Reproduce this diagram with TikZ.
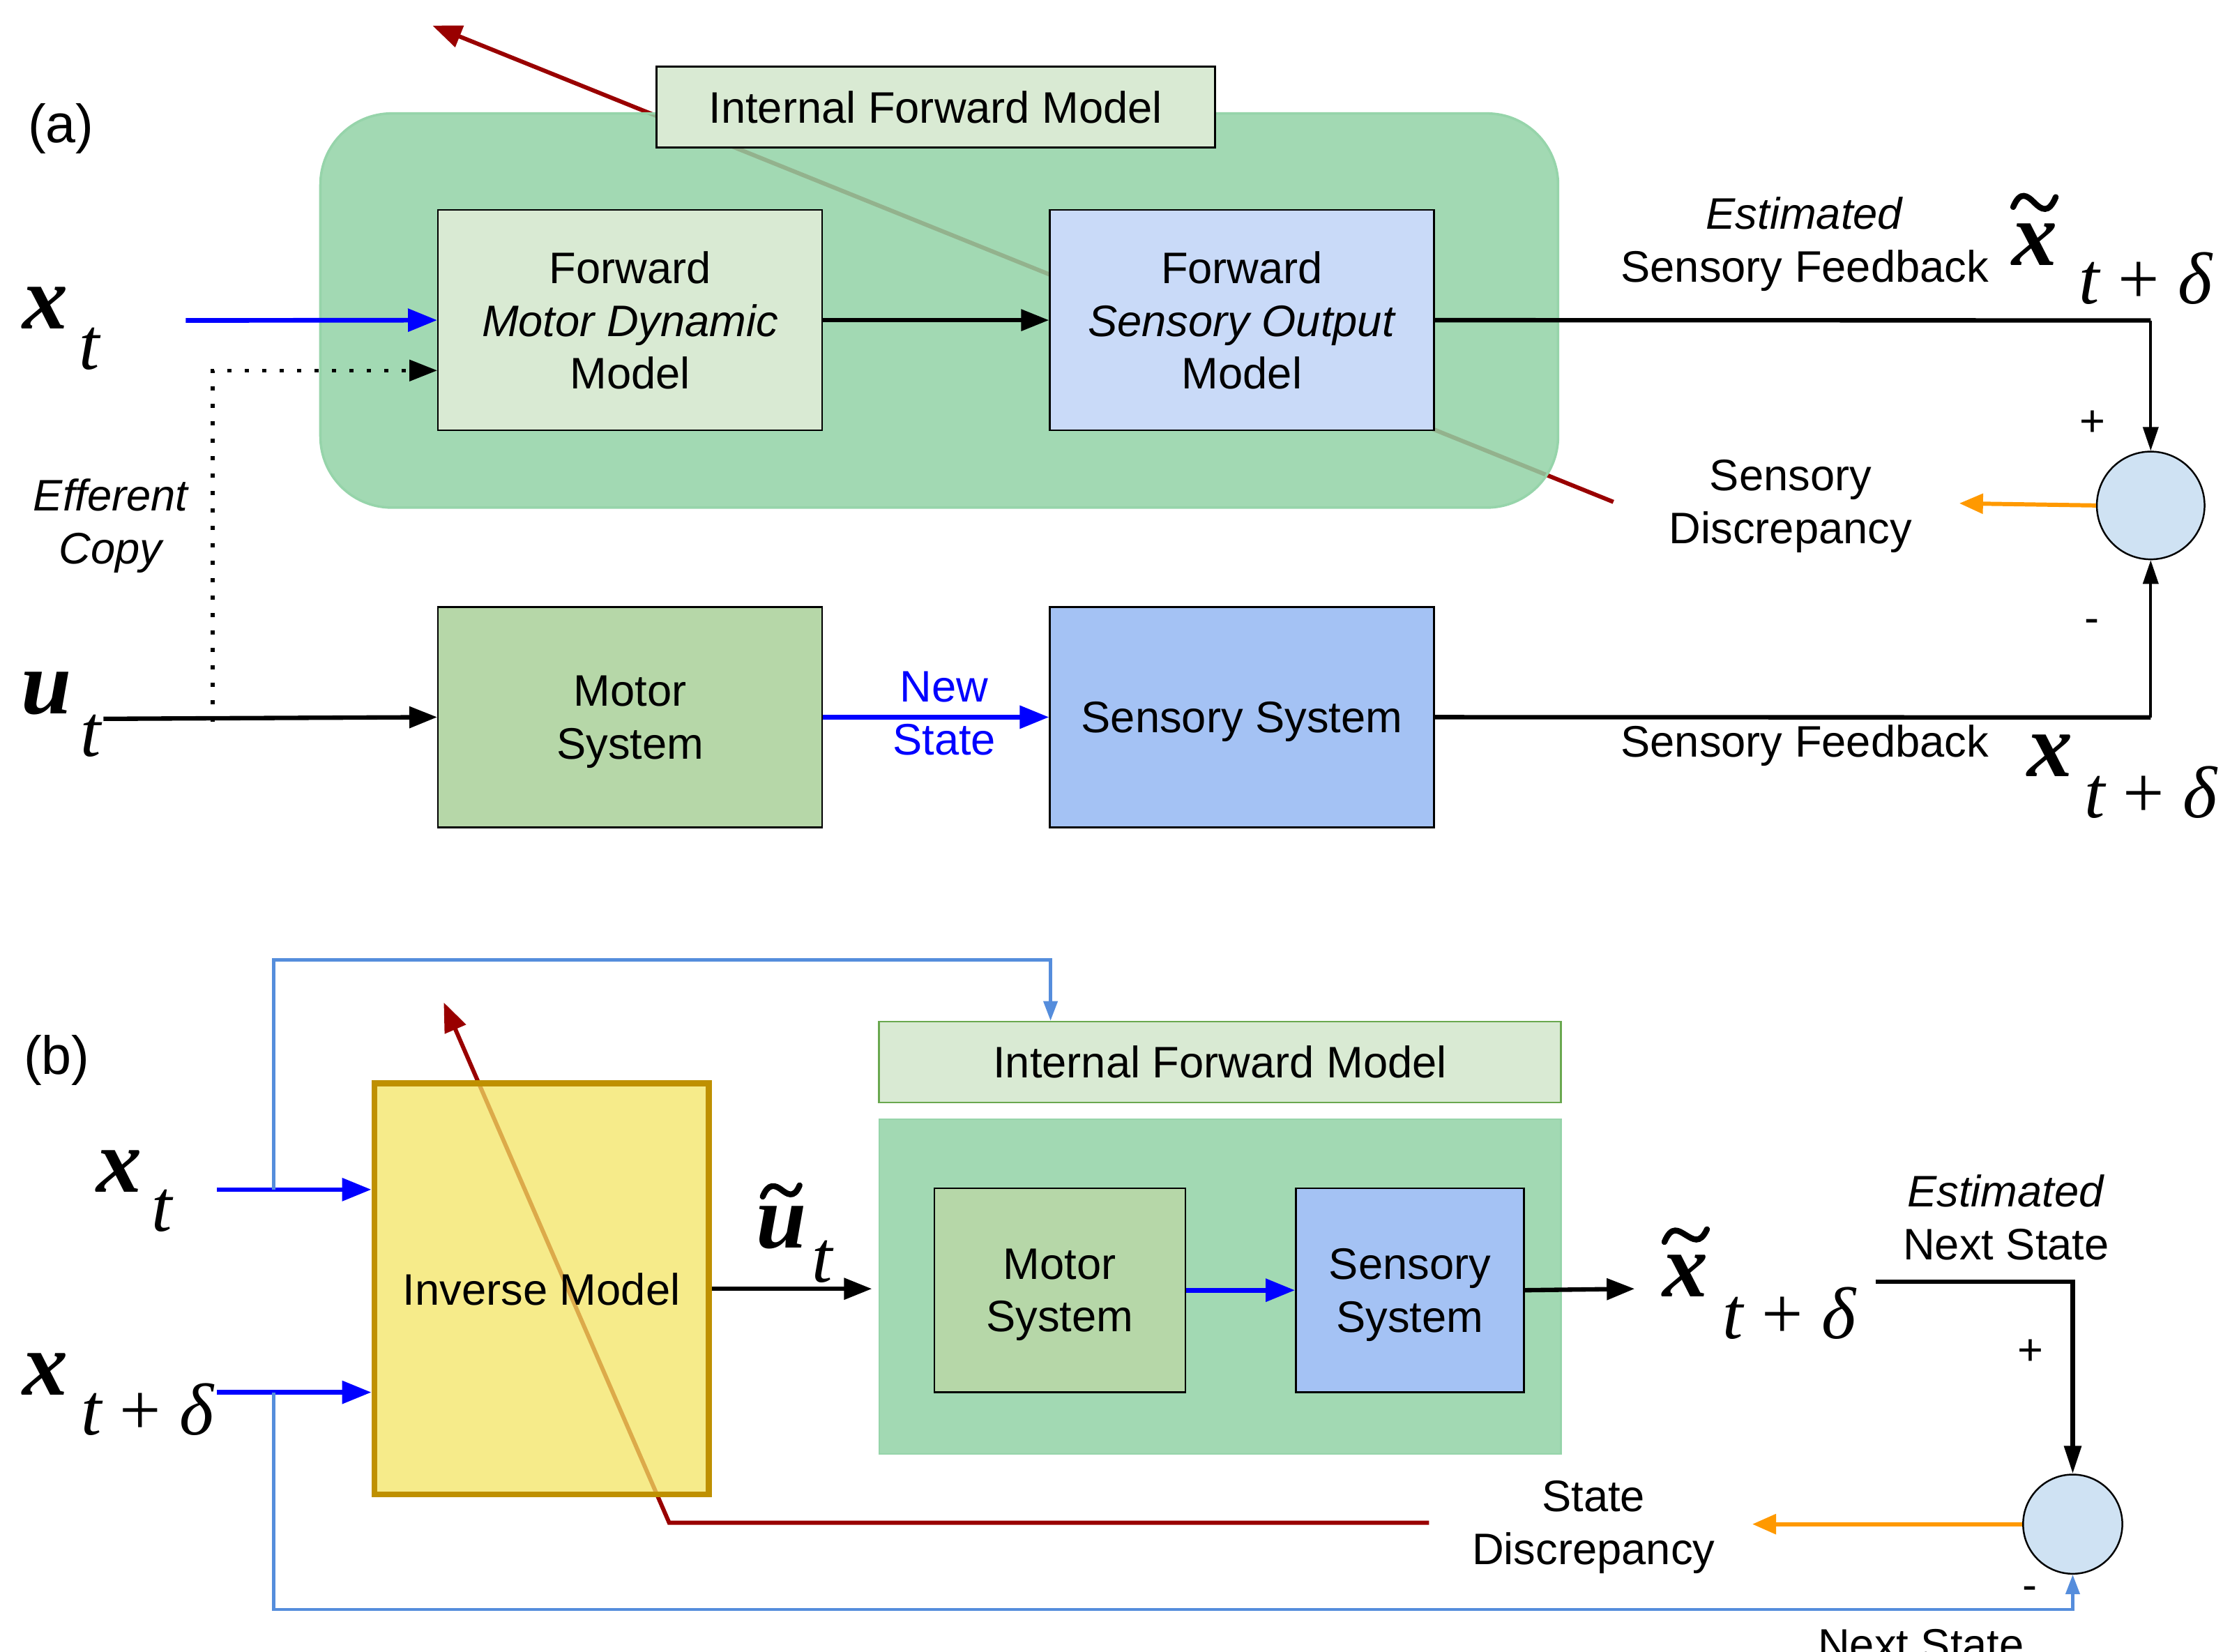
\documentclass[tikz,border=0pt]{standalone}
\usepackage{fontspec}
\setmainfont{Liberation Sans}
\newfontfamily\mathserif{Liberation Serif}
\usetikzlibrary{arrows.meta,calc}

\definecolor{ifmfill}{RGB}{217,234,211}
\definecolor{fsofill}{RGB}{201,218,248}
\definecolor{motorfill}{RGB}{182,215,168}
\definecolor{sensfill}{RGB}{164,194,244}
\definecolor{sumfill}{RGB}{207,226,243}
\definecolor{panelfill}{RGB}{146,210,166}
\definecolor{panelsolid}{RGB}{162,217,179}
\definecolor{paneledge}{RGB}{150,212,170}
\definecolor{invfill}{RGB}{243,228,99}
\definecolor{invedge}{RGB}{191,144,0}
\definecolor{errred}{RGB}{153,0,0}
\definecolor{discorange}{RGB}{255,153,0}
\definecolor{stateblue}{RGB}{0,0,255}
\definecolor{loopblue}{RGB}{85,141,220}
\definecolor{labeledge}{RGB}{106,168,79}

% one drawing unit
\def\Dp{0.2033mm}

\tikzset{
  txt/.style={inner sep=0pt, align=center, font=\fontsize{18}{21.6}\selectfont},
  block/.style 2 args={txt, draw=black, line width=0.7pt, text depth=0pt,
    minimum width=#1*\Dp, minimum height=#2*\Dp},
  panelA/.style={draw=paneledge, line width=1pt, fill=panelfill, fill opacity=0.85,
    rounded corners=10.2mm, inner sep=0pt},
  sumnode/.style={circle, draw=black, line width=0.7pt, fill=sumfill,
    minimum size=#1*\Dp, inner sep=0pt},
  mvar/.style={inner sep=0pt, font=\mathserif\bfseries\itshape\fontsize{37}{37}\selectfont},
  msub/.style={inner sep=0pt, font=\mathserif\itshape\fontsize{30}{30}\selectfont},
  tag/.style={inner sep=0pt, font=\fontsize{22}{26}\selectfont},
  tipL/.style={-{Triangle[length=0.4cm,width=0.3cm]}},
  tipS/.style={-{Triangle[length=0.34cm,width=0.22cm]}},
  heavy/.style={line width=1.8pt},
  thin/.style={line width=1.1pt},
  stateflow/.style={draw=stateblue, line width=1.9pt, -{Triangle[length=0.42cm,width=0.32cm]}},
  errline/.style={draw=errred, line width=1.7pt, -{Triangle[length=0.42cm,width=0.32cm]}},
  discflow/.style={draw=discorange, line width=1.7pt, -{Triangle[length=0.34cm,width=0.28cm]}},
  loopline/.style={draw=loopblue, line width=1.2pt},
  tildestroke/.style={line width=2.4pt, line cap=round},
}

\newcommand\tsum{t\hspace{0.25em}{\upshape+}\hspace{0.25em}δ}

\begin{document}
\begin{tikzpicture}[x=0.2033mm, y=-0.2033mm]
\useasboundingbox (0,0) rectangle (1568,1165);

%% ---------------- panel (a) ----------------
\node[tag, anchor=base] (taga) at (43,100.8) {(a)};

% error signal, passing behind the forward model
\coordinate (errA0) at (1138,354);
\coordinate (errA1) at (305,18);
\draw[errline] (errA0) -- (errA1);

\node[panelA, minimum width=873*\Dp, minimum height=278*\Dp] (fwdA) at (662.5,219) {};
\node[block={394}{57}, fill=ifmfill] (ifmA) at (660,75.5) {Internal Forward Model};

\node[block={271}{155.5}, fill=ifmfill] (fmd) at (444.5,225.8)
  {Forward\\\textit{Motor Dynamic}\\Model};
\node[block={271}{155.5}, fill=fsofill] (fso) at (876,225.8)
  {Forward\\\textit{Sensory Output}\\Model};
\node[block={271}{155.5}, fill=motorfill] (msA) at (444.5,505.8) {Motor\\System};
\node[block={271}{155.5}, fill=sensfill] (ssA) at (876,505.8) {Sensory System};
\node[sumnode=76] (sumA) at (1517,356.5) {};

% inputs
\node[mvar] (xA) at (32,217) {x};
\node[msub] (xAt) at (63,246) {t};
\node[mvar] (uA) at (33,489) {u};
\node[msub] (uAt) at (64,519) {t};
\coordinate (xAin) at (131,226);
\coordinate (uAin) at (73,507);
\coordinate (effA) at (150,509);
\draw[stateflow] (xAin) -- (fmd.west);
\draw[heavy, tipL] (uAin) -- (msA.west);
\draw[line width=1.5pt, dash pattern=on 0.06cm off 0.19cm, tipL]
  (effA) |- ($(fmd.west)+(0,35.5)$);
\node[txt, font=\fontsize{18}{21.6}\selectfont\itshape] (effcopy) at (78,371) {Efferent\\Copy};

% forward chain
\draw[heavy, tipL] (fmd.east) -- (fso.west);
\draw[stateflow] (msA.east) -- (ssA.west);
\node[txt, text=stateblue] (newstate) at (666,503) {New\\State};

% feedback to the comparator
\coordinate (cA1) at (1517,226);
\coordinate (cA2) at (1517,506);
\draw[heavy] (fso.east) -- (cA1);
\draw[thin, tipS] (cA1) -- (sumA.north);
\draw[heavy] (ssA.east) -- (cA2);
\draw[thin, tipS] (cA2) -- (sumA.south);

\node[txt] (estA) at (1273,172) {\textit{Estimated}\\Sensory Feedback};
\node[mvar] (xhA) at (1435,172.5) {x};
\draw[tildestroke] (1420,146) .. controls (1425,134) and (1430,138) .. (1435,143)
  .. controls (1440,148) and (1445,151) .. (1450,139);
\node[msub] (xhAs) at (1513.5,196.5) {\tsum};

\node[txt, anchor=base] (sfA) at (1273,534) {Sensory Feedback};
\node[mvar] (xfA) at (1446,533) {x};
\node[msub] (xfAs) at (1517,559) {\tsum};

\node[txt] (plusA) at (1476,298.6) {+};
\node[txt] (minusA) at (1475.6,441.5) {-};

\coordinate (discA) at (1382,355);
\draw[discflow] (sumA.west) -- (discA);
\node[txt] (sdA) at (1263,357) {Sensory\\Discrepancy};

%% ---------------- panel (b) ----------------
\node[tag, anchor=base] (tagb) at (40,757.6) {(b)};

% error signal, passing behind the inverse model
\coordinate (errB0) at (1008,1074);
\coordinate (errB1) at (472,1074);
\coordinate (errB2) at (313,707);
\draw[errline] (errB0) -- (errB1) -- (errB2);

\node[block={236}{290}, draw=invedge, line width=2.4pt, fill=invfill, fill opacity=0.75,
  text opacity=1] (inv) at (382,909) {Inverse Model};

\node[block={481}{57}, draw=labeledge, fill=ifmfill] (ifmB) at (860.5,749) {Internal Forward Model};
\node[draw=paneledge, line width=0.6pt, fill=panelsolid, inner sep=0pt,
  minimum width=481*\Dp, minimum height=236*\Dp] (fwdB) at (860.5,907.5) {};
\node[block={177}{144}, fill=motorfill] (msB) at (747.5,910) {Motor\\System};
\node[block={161}{144}, fill=sensfill] (ssB) at (994.5,910) {Sensory\\System};
\node[sumnode=70] (sumB) at (1462,1075) {};

% inputs
\node[mvar] (xB) at (84,826) {x};
\node[msub] (xBt) at (114,854) {t};
\node[mvar] (xnB) at (32,969) {x};
\node[msub] (xnBs) at (104,994) {\tsum};
\coordinate (xBin) at (153,839);
\coordinate (xnBin) at (153,982);
\draw[stateflow] (xBin) -- (xBin -| inv.west);
\draw[stateflow] (xnBin) -- (xnBin -| inv.west);

% copies of the state routed around
\coordinate (loopA) at (193,839);
\coordinate (loopTop) at (741,677);
\coordinate (loopB) at (193,982);
\coordinate (loopBot) at (1462,1135);
\draw[loopline, -{Triangle[length=0.28cm,width=0.2cm]}]
  (loopA) |- (loopTop) -- (loopTop |- ifmB.north);
\draw[loopline, -{Triangle[length=0.28cm,width=0.2cm]}]
  (loopB) |- (loopBot) -- (sumB.south);

% motor command estimate
\coordinate (uEnd) at (615,909);
\draw[heavy, tipL] (inv.east) -- (uEnd);
\node[mvar] (uB) at (551,866) {u};
\draw[tildestroke] (538,844) .. controls (542,834) and (547,836) .. (551,839)
  .. controls (555,842) and (560,846) .. (564,836);
\node[msub] (uBt) at (580,890) {t};

\draw[stateflow] (msB.east) -- (ssB.west);
\coordinate (xhEnd) at (1153,909);
\draw[heavy, tipL] (ssB.east) -- (xhEnd);
\node[mvar] (xhB) at (1189,900) {x};
\draw[tildestroke] (1174,876) .. controls (1179,864) and (1184,868) .. (1189,871)
  .. controls (1194,874) and (1199,878) .. (1204,867);
\node[msub] (xhBs) at (1262,926) {\tsum};

\node[txt] (estB) at (1415,858.5) {\textit{Estimated}\\Next State};
\coordinate (estBin) at (1323,904);
\draw[heavy] (estBin) -| ($(sumB.north)+(0,-30)$);
\draw[heavy, -{Triangle[length=0.4cm,width=0.24cm]}] ($(sumB.north)+(0,-30)$) -- (sumB.north);

\node[txt] (plusB) at (1432,954) {+};
\node[txt] (minusB) at (1432,1124) {-};

\coordinate (discB) at (1236,1075);
\draw[discflow] (sumB.west) -- (discB);
\node[txt] (sdB) at (1124,1077) {State\\Discrepancy};

\node[txt, anchor=base] (nsB) at (1355,1171) {Next State};
\end{tikzpicture}
\end{document}
